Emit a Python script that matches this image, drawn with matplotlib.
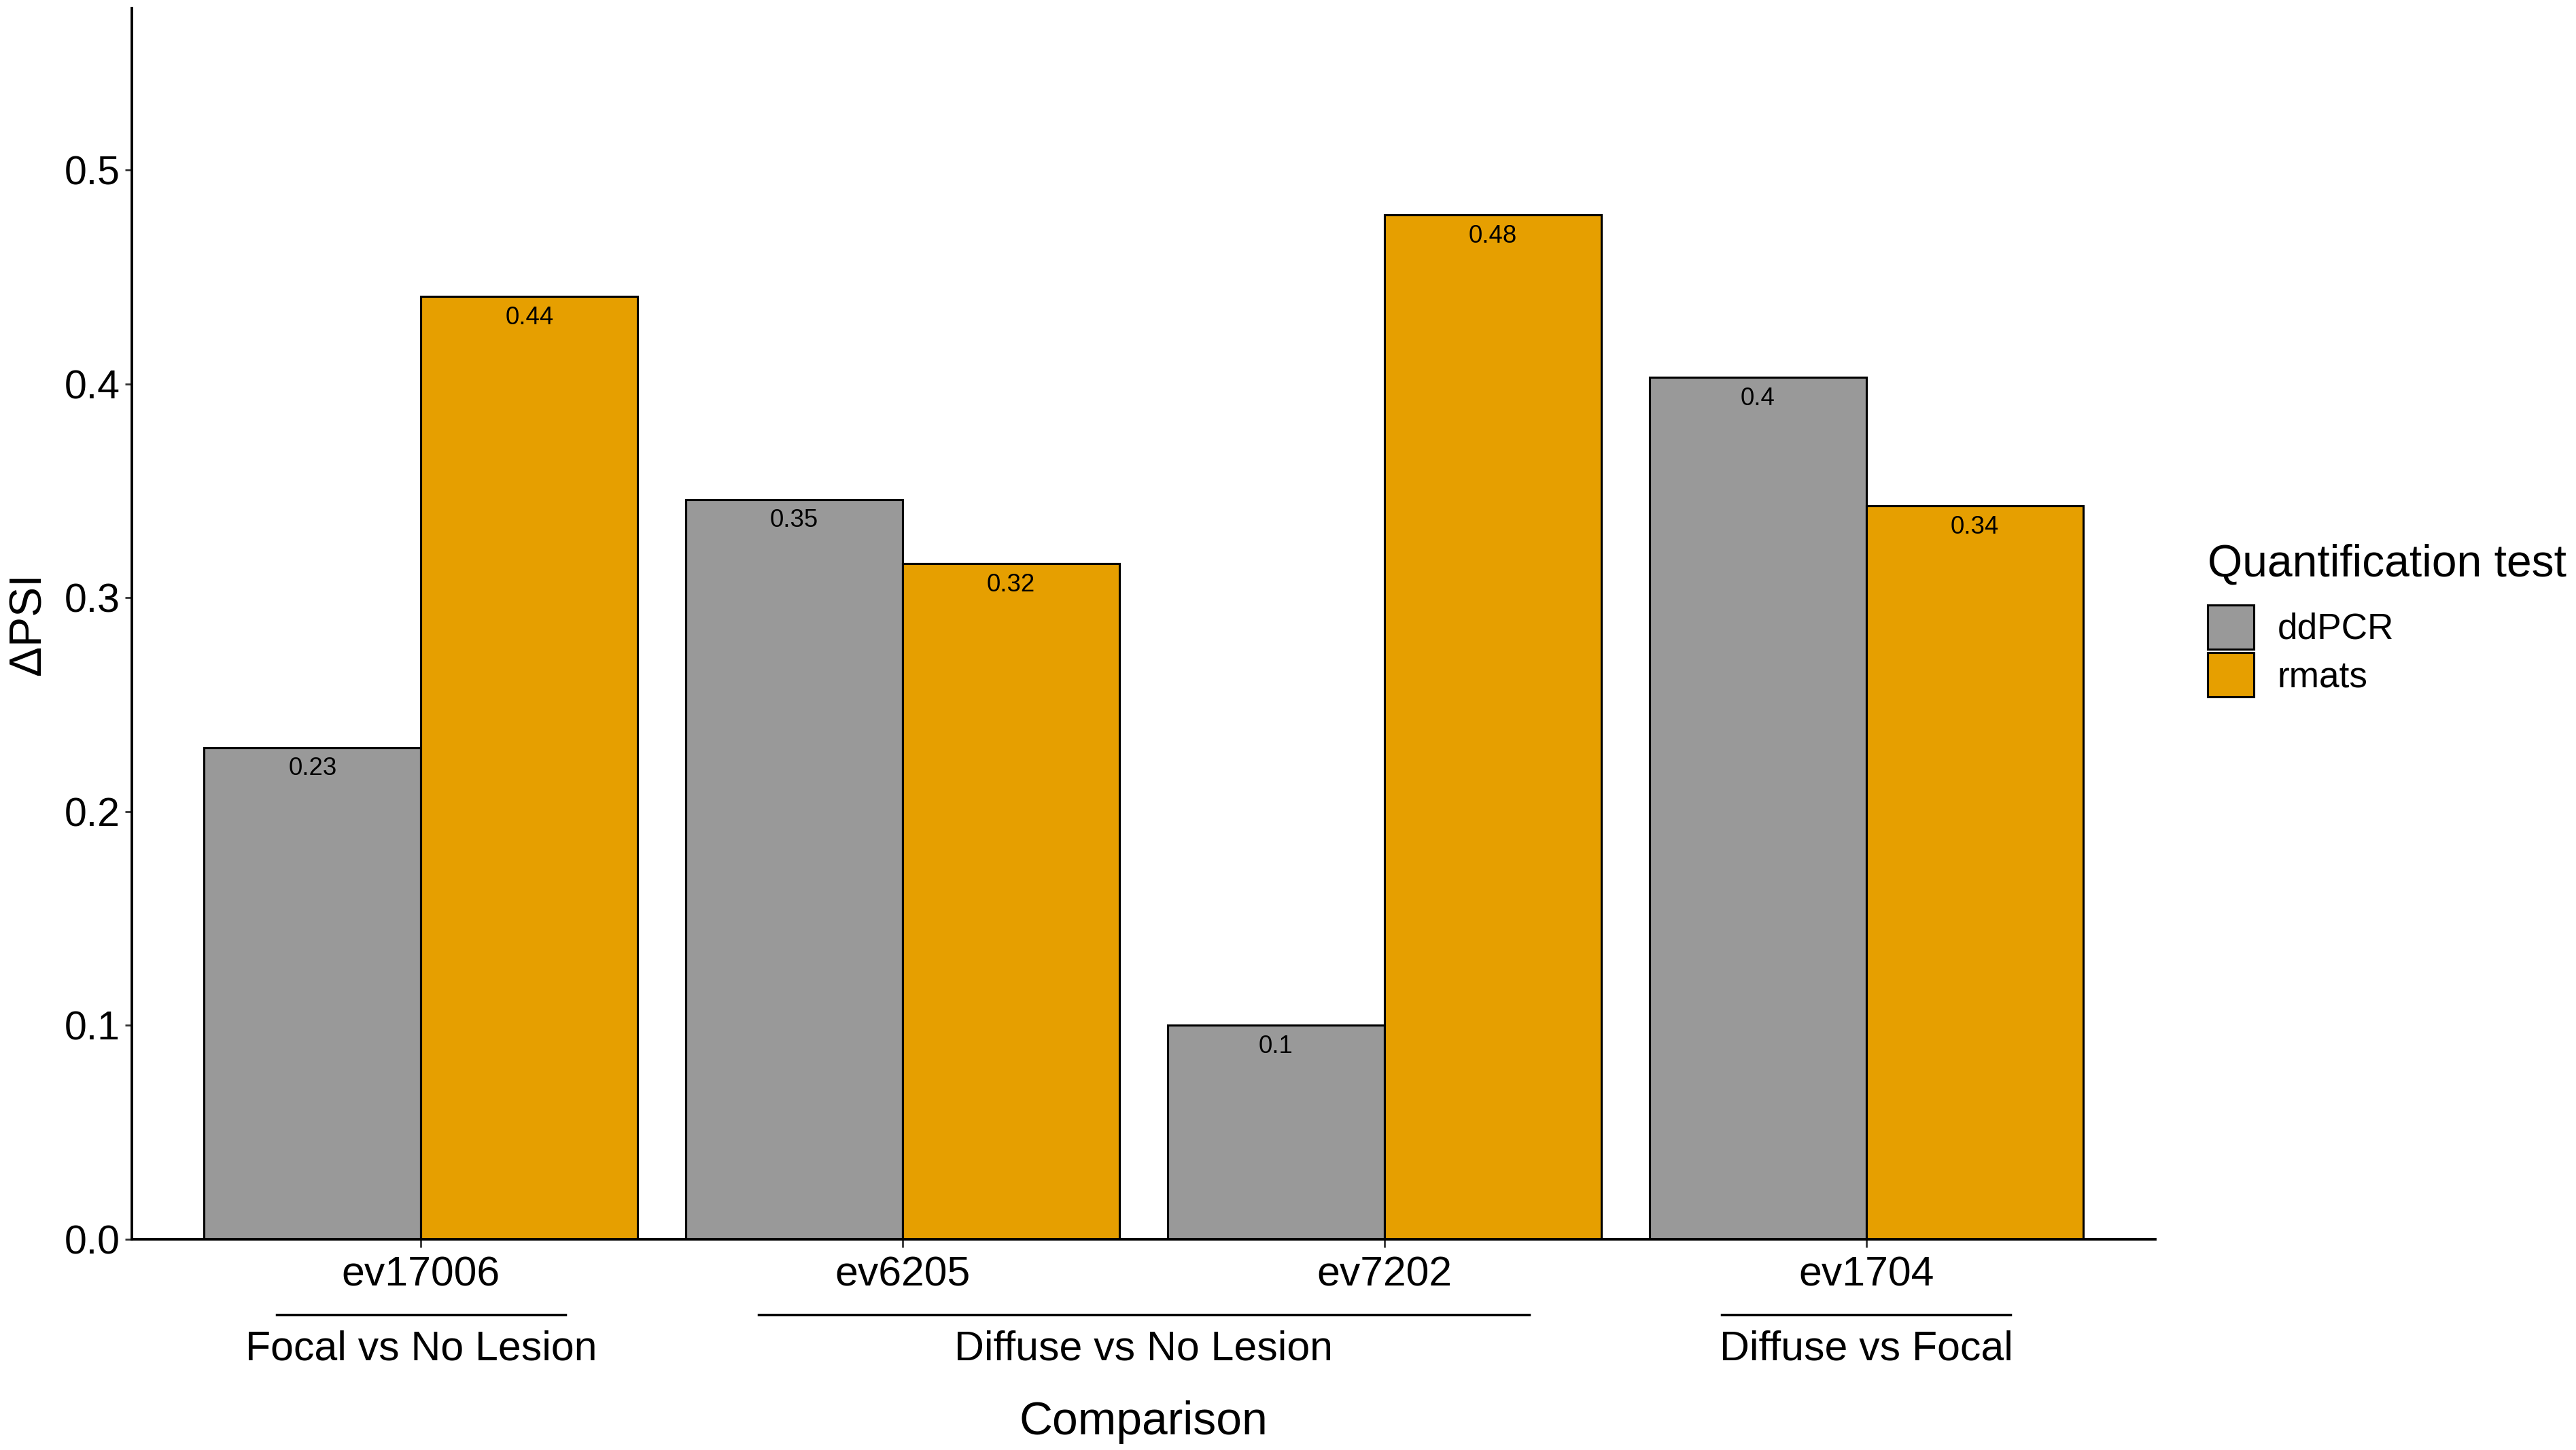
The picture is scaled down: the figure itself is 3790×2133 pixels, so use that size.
import matplotlib
matplotlib.use('Agg')
import matplotlib.pyplot as plt
import matplotlib.transforms as mtransforms
import numpy as np

plt.rcParams['font.family'] = ['Liberation Sans', 'DejaVu Sans']

# data
events = ['ev17006', 'ev6205', 'ev7202', 'ev1704']
ddpcr = [0.23, 0.346, 0.1, 0.403]
rmats = [0.441, 0.316, 0.479, 0.343]
series_names = ['ddPCR', 'rmats']
series_colors = ['#999999', '#E69F00']

# comparison groups: (label, first event index, last event index)
groups = [('Focal vs No Lesion', 0, 0),
          ('Diffuse vs No Lesion', 1, 2),
          ('Diffuse vs Focal', 3, 3)]

fig = plt.figure(figsize=(15.16, 8.532), dpi=250)
ax = fig.add_axes([0.0512, 0.1453, 0.7855, 0.8491])

x = np.arange(1, len(events) + 1)
w = 0.45
for i, (vals, name, col) in enumerate(zip([ddpcr, rmats], series_names, series_colors)):
    xs = x + (i - 0.5) * w
    bars = ax.bar(xs, vals, width=w, color=col, edgecolor='black',
                  linewidth=0.9, label=name, zorder=2)
    for xi, v in zip(xs, vals):
        ax.annotate(f"{round(v, 2):g}", (xi, v), xytext=(0, -4),
                    textcoords='offset points', ha='center', va='top',
                    fontsize=10.5, color='black')

ax.set_xlim(0.4, 4.6)
ax.set_ylim(0, 0.5757)
ax.set_yticks([0.0, 0.1, 0.2, 0.3, 0.4, 0.5])
ax.set_yticklabels(['0.0', '0.1', '0.2', '0.3', '0.4', '0.5'])
ax.set_xticks(x)
ax.set_xticklabels(events)

for s in ['top', 'right']:
    ax.spines[s].set_visible(False)
for s in ['left', 'bottom']:
    ax.spines[s].set_linewidth(1.1)
    ax.spines[s].set_zorder(3)

ax.tick_params(axis='y', labelsize=17, length=3, width=0.8, color='#333333', pad=2)
ax.tick_params(axis='x', labelsize=17.5, length=3.5, width=0.8, color='#333333', pad=3.5)

ax.set_ylabel('ΔPSI', fontsize=19, labelpad=6)

# group brackets under the event labels
trans = mtransforms.blended_transform_factory(ax.transData, ax.transAxes)
for label, a, b in groups:
    x0 = x[a] - 0.3
    x1 = x[b] + 0.3
    ax.plot([x0, x1], [-0.0613, -0.0613], transform=trans, color='black',
            linewidth=1.0, clip_on=False)
    ax.text((x[a] + x[b]) / 2, -0.0895, label, transform=trans,
            ha='center', va='center', fontsize=17.5)

ax.text(0.5, -0.1485, 'Comparison', transform=ax.transAxes,
        ha='center', va='center', fontsize=19.5)

leg = ax.legend(title='Quantification test', loc='upper left',
                bbox_to_anchor=(0.857, 0.625), bbox_transform=fig.transFigure,
                frameon=False, fontsize=15.3, title_fontsize=19,
                handlelength=1.28, handleheight=1.51, handletextpad=0.65,
                labelspacing=0.1, borderpad=0, borderaxespad=0,
                alignment='left')
# extra room between the title and the keys
leg._legend_box.sep = 8

fig.savefig('out.png', dpi=250)
